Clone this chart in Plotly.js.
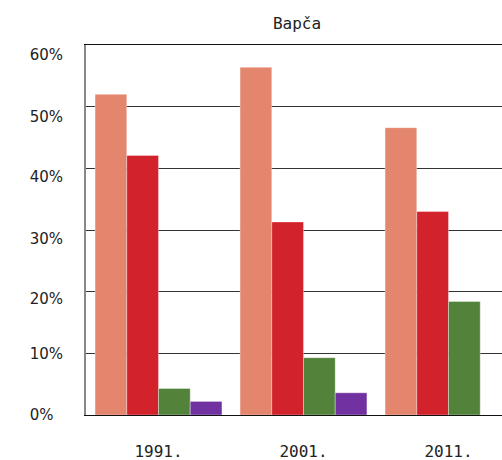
<!DOCTYPE html>
<html>
<head>
<meta charset="utf-8">
<script src="https://cdn.plot.ly/plotly-3.0.1.min.js"></script>
<style>html,body{margin:0;padding:0;overflow:hidden;background:#fff;}</style>
</head>
<body>
<div id="chart" style="width:502px;height:460px;"></div>
<script>
const chartTitle = "Bapča";
const categories = ["1991.", "2001.", "2011."];
const seriesA = [52.0, 56.4, 46.6];
const seriesB = [42.1, 31.3, 33.0];
const seriesC = [4.3, 9.3, 18.4];
const seriesD = [2.2, 3.6, 0];
const colors = ["#e4856d", "#d2232c", "#53833a", "#7131a0"];
const gridVals = [0, 10, 20, 30, 40, 50, 60];
const tickLabels = ["0%\u2007", "10%", "20%", "30%", "40%", "50%", "60%"];
// vertical position where each tick label sits (labels are drawn slightly below their gridline)
const labelVals = [0, 9.9, 18.8, 28.6, 38.7, 48.4, 58.35];

const seriesList = [seriesA, seriesB, seriesC, seriesD];
const traces = seriesList.map((vals, i) => ({
  type: "bar",
  x: categories,
  y: vals,
  marker: {color: colors[i], line: {color: "rgba(255,255,255,0.35)", width: 1}},
  hoverinfo: "none",
  showlegend: false
}));
// invisible trace to activate label axis
traces.push({type: "scatter", x: [categories[0]], y: [0], yaxis: "y2", mode: "none", showlegend: false, hoverinfo: "none"});

const layout = {
  width: 502, height: 460,
  margin: {l: 86, r: 0, t: 45, b: 45},
  paper_bgcolor: "#fff", plot_bgcolor: "#fff",
  barmode: "group", bargap: 0.125, bargroupgap: 0,
  title: {text: chartTitle, font: {family: "DejaVu Sans Mono", size: 16, color: "#222"},
          x: 297/502, xanchor: "center", xref: "container", y: 1 - 23/460, yanchor: "middle", yref: "container"},
  xaxis: {
    type: "category", range: [-0.5, 2.369],
    showline: true, linecolor: "#111", linewidth: 1, mirror: true,
    showgrid: false, ticks: "", ticklabelstandoff: 22,
    tickfont: {family: "DejaVu Sans Mono", size: 16, color: "#222"},
    fixedrange: true, automargin: false
  },
  yaxis: {
    range: [0, 60], tickvals: gridVals, showticklabels: false,
    showgrid: true, gridcolor: "#333", gridwidth: 1,
    showline: true, linecolor: "#888", linewidth: 2,
    zeroline: false, ticks: "", fixedrange: true
  },
  yaxis2: {
    overlaying: "y", side: "left", anchor: "x",
    range: [0, 60], tickvals: labelVals, ticktext: tickLabels,
    showgrid: false, zeroline: false, showline: false, ticks: "",
    ticklabelstandoff: 22,
    tickfont: {family: "DejaVu Sans", size: 15, color: "#222"},
    fixedrange: true
  }
};

Plotly.newPlot("chart", traces, layout, {displayModeBar: false, staticPlot: true});
</script>
</body>
</html>
